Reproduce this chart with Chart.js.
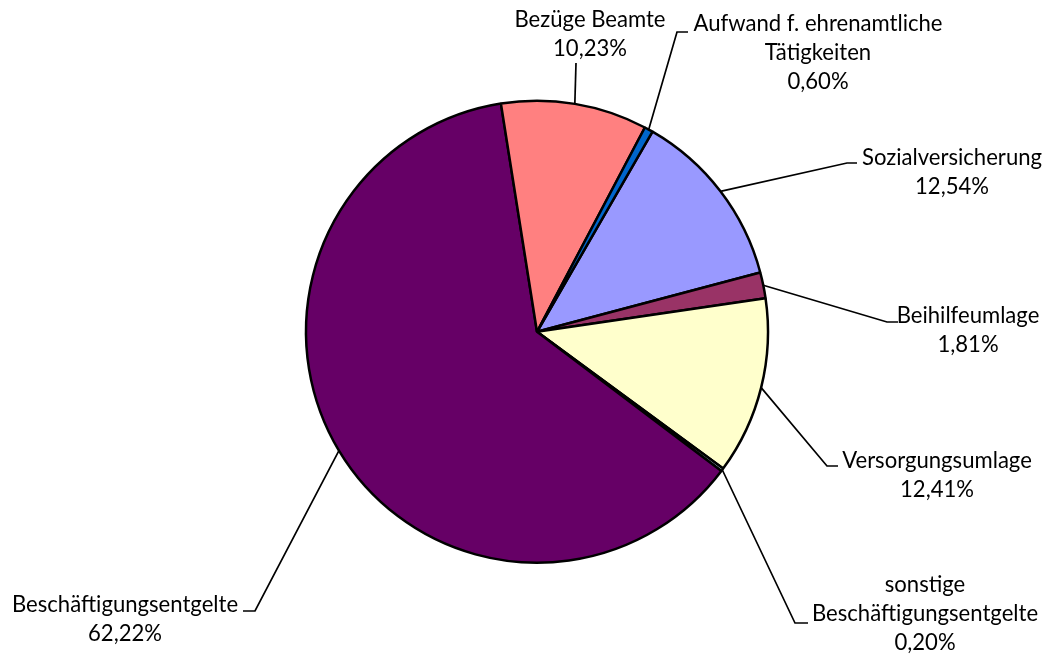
<!DOCTYPE html>
<html>
<head>
<meta charset="utf-8">
<script src="https://cdn.jsdelivr.net/npm/chart.js@4.4.1/dist/chart.umd.min.js"></script>
<style>
  html, body { margin: 0; background: #fff; }
</style>
</head>
<body>
<canvas id="pie" width="1052" height="657"></canvas>
<script>
// Daten (Reihenfolge wie in der Excel-Quelle, Start bei ~30°)
const categories = [
  'Sozialversicherung',
  'Beihilfeumlage',
  'Versorgungsumlage',
  'sonstige Beschäftigungsentgelte',
  'Beschäftigungsentgelte',
  'Bezüge Beamte',
  'Aufwand f. ehrenamtliche Tätigkeiten',
];
const shares = [12.54, 1.81, 12.41, 0.20, 62.22, 10.23, 0.60];
const labelLines = [
  ['Sozialversicherung'],
  ['Beihilfeumlage'],
  ['Versorgungsumlage'],
  ['sonstige', 'Beschäftigungsentgelte'],
  ['Beschäftigungsentgelte'],
  ['Bezüge Beamte'],
  ['Aufwand f. ehrenamtliche', 'Tätigkeiten'],
];
const colors = ['#9999FF', '#993366', '#FFFFCC', '#CCFFFF', '#660066', '#FF8080', '#0066CC'];

// Beschriftung: Textmitte, erste Zeile, Knick und Ende der Führungslinie
const labelLayout = [
  { x: 952, y: 158, elbow: [847, 163], end: [857, 163] },
  { x: 968, y: 316, elbow: [887, 322], end: [898, 322] },
  { x: 937, y: 461, elbow: [827, 466], end: [838, 466] },
  { x: 925, y: 585, elbow: [795, 623], end: [808, 623] },
  { x: 125, y: 605, elbow: [255, 611], end: [243, 611] },
  { x: 590, y: 20,  elbow: [576, 63],  end: null },
  { x: 818, y: 24,  elbow: [677, 32],  end: [688, 32] },
];

const FONT_FAMILY = 'Lato, "Open Sans", sans-serif';
const LINE_H = 29;

const fmtPct = v => v.toFixed(2).replace('.', ',') + '%';

// Schriftgröße so wählen, dass "Beschäftigungsentgelte" ~226px breit ist
function fitFontSize(ctx) {
  ctx.font = '100px ' + FONT_FAMILY;
  const w = ctx.measureText('Beschäftigungsentgelte').width;
  return Math.round(226 / w * 1000) / 10;
}

const leaderLabels = {
  id: 'leaderLabels',
  afterDraw(chart) {
    const c = chart.ctx;
    const meta = chart.getDatasetMeta(0);
    c.save();
    const size = fitFontSize(c);
    c.font = size + 'px ' + FONT_FAMILY;
    c.textAlign = 'center';
    c.textBaseline = 'middle';
    c.strokeStyle = '#000';
    c.lineWidth = 1.7;
    c.fillStyle = '#000';
    meta.data.forEach((arc, i) => {
      const { x, y, startAngle, endAngle, outerRadius } = arc.getProps(['x', 'y', 'startAngle', 'endAngle', 'outerRadius'], true);
      const mid = (startAngle + endAngle) / 2;
      const px = x + Math.cos(mid) * outerRadius;
      const py = y + Math.sin(mid) * outerRadius;
      const lay = labelLayout[i];
      c.beginPath();
      c.moveTo(px, py);
      c.lineTo(lay.elbow[0], lay.elbow[1]);
      if (lay.end) c.lineTo(lay.end[0], lay.end[1]);
      c.stroke();
      const lines = labelLines[i].concat(fmtPct(shares[i]));
      lines.forEach((t, k) => c.fillText(t, lay.x, lay.y + k * LINE_H));
    });
    c.restore();
  },
};

new Chart(document.getElementById('pie'), {
  type: 'pie',
  data: {
    labels: categories,
    datasets: [{
      data: shares,
      backgroundColor: colors,
      borderColor: '#000',
      borderWidth: 2.5,
    }],
  },
  options: {
    responsive: false,
    animation: false,
    rotation: 30,
    layout: { padding: { top: 99.5, bottom: 93, left: 80, right: 58 } },
    plugins: {
      legend: { display: false },
      tooltip: { enabled: false },
    },
  },
  plugins: [leaderLabels],
});
</script>
</body>
</html>
